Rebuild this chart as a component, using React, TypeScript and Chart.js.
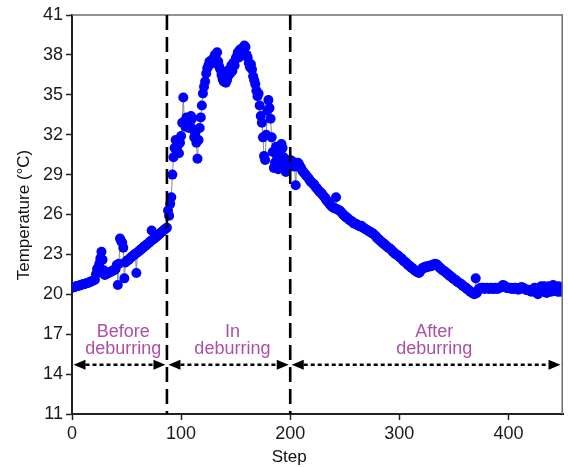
import React, { useEffect, useRef } from 'react';
import { Chart, registerables } from 'chart.js';

Chart.register(...registerables);

// Step 0..87
const beforeTemps = [
  20.5, 20.52, 20.55, 20.57, 20.6, 20.62, 20.65, 20.67, 20.7, 20.72,
  20.75, 20.77, 20.8, 20.82, 20.85, 20.87, 20.9, 20.94, 20.98, 21.02,
  21.06, 21.1, 21.5, 21.9, 22.0, 22.3, 22.7, 23.2, 22.6, 21.8,
  21.45, 21.5, 21.55, 21.6, 21.62, 21.67, 21.72, 21.76, 21.8, 21.85,
  21.9, 22.2, 20.7, 22.3, 24.2, 24.0, 23.9, 23.5, 21.2, 22.4,
  22.5, 22.55, 22.6, 22.7, 22.77, 22.84, 22.9, 22.97, 23.04, 21.6,
  23.15, 23.22, 23.29, 23.36, 23.43, 23.5, 23.57, 23.64, 23.7, 23.77,
  23.84, 23.9, 24.0, 24.8, 24.1, 24.17, 24.24, 24.31, 24.38, 24.45,
  24.52, 24.6, 24.67, 24.74, 24.81, 24.88, 24.95, 25.0,
];

// Step 88..199
const duringTemps = [
  26.3, 25.9, 26.8, 27.3, 29.0, 30.3, 31.0, 31.6, 30.8, 31.2,
  30.6, 31.4, 31.9, 32.9, 34.8, 33.0, 32.6, 33.3, 33.0, 32.5,
  32.8, 33.4, 33.2, 32.4, 31.8, 32.1, 31.4, 30.2, 31.6, 32.5,
  33.3, 34.2, 35.1, 35.6, 36.0, 36.6, 37.0, 37.2, 37.5, 37.3,
  37.6, 37.4, 37.8, 38.0, 37.7, 38.2, 37.5, 37.1, 36.9, 36.5,
  36.2, 36.0, 36.3, 35.9, 36.1, 36.4, 36.9, 36.6, 37.2, 36.8,
  37.4, 37.2, 37.7, 37.9, 38.2, 37.8, 38.4, 38.1, 38.5, 38.3,
  38.7, 38.6, 38.0, 37.8, 37.4, 37.1, 37.3, 36.9, 36.4, 36.1,
  35.8, 35.3, 34.9, 35.1, 34.2, 33.4, 32.9, 31.8, 30.4, 30.1,
  32.0, 33.8, 34.6, 34.0, 33.2, 31.8, 30.7, 29.5, 29.9, 31.1,
  30.2, 29.4, 29.8, 30.5, 31.3, 31.0, 30.3, 29.6, 29.2, 30.0,
  29.7, 29.6,
];

// Step 200..450
const afterTemps = [
  30.1, 29.8, 30.0, 29.9, 29.6, 28.2, 29.7, 29.9, 29.8, 29.6,
  29.5, 29.3, 29.2, 29.1, 29.0, 28.9, 28.8, 28.7, 28.55, 28.45,
  28.4, 28.3, 28.25, 28.1, 28.0, 27.9, 27.8, 27.7, 27.65, 27.55,
  27.45, 27.35, 27.25, 27.1, 27.0, 26.9, 26.8, 26.7, 26.6, 26.55,
  26.5, 26.45, 27.3, 26.4, 26.35, 26.3, 26.25, 26.15, 26.05, 25.95,
  25.9, 25.8, 25.75, 25.7, 25.6, 25.55, 25.5, 25.45, 25.35, 25.3,
  25.3, 25.25, 25.2, 25.15, 25.1, 25.15, 25.1, 25.0, 24.95, 24.9,
  24.85, 24.8, 24.75, 24.7, 24.65, 24.6, 24.55, 24.5, 24.4, 24.3,
  24.2, 24.15, 24.05, 24.0, 23.9, 23.85, 23.8, 23.7, 23.65, 23.55,
  23.5, 23.45, 23.4, 23.3, 23.2, 23.15, 23.05, 23.0, 22.95, 22.9,
  22.8, 22.75, 22.7, 22.6, 22.5, 22.45, 22.4, 22.3, 22.2, 22.15,
  22.1, 22.0, 21.95, 21.9, 21.8, 21.75, 21.7, 21.65, 21.6, 21.7,
  21.85, 21.95, 22.0, 22.05, 22.0, 22.1, 22.05, 22.1, 22.15, 22.1,
  22.2, 22.25, 22.2, 22.3, 22.25, 22.2, 22.1, 22.0, 21.95, 21.85,
  21.8, 21.75, 21.7, 21.6, 21.55, 21.5, 21.4, 21.35, 21.3, 21.2,
  21.15, 21.1, 21.05, 20.95, 20.9, 20.85, 20.8, 20.75, 20.65, 20.6,
  20.55, 20.5, 20.4, 20.35, 20.3, 20.2, 20.15, 20.1, 20.05, 20.0,
  21.2, 20.1, 20.3, 20.4, 20.45, 20.5, 20.45, 20.5, 20.4, 20.45,
  20.5, 20.45, 20.4, 20.45, 20.5, 20.4, 20.45, 20.4, 20.5, 20.45,
  20.4, 20.45, 20.5, 20.55, 20.6, 20.7, 20.65, 20.6, 20.5, 20.45,
  20.5, 20.45, 20.5, 20.4, 20.45, 20.4, 20.5, 20.45, 20.4, 20.35,
  20.4, 20.5, 20.55, 20.5, 20.45, 20.4, 20.35, 20.3, 20.35, 20.3,
  20.25, 20.2, 20.3, 20.4, 20.5, 20.3, 20.1, 20.0, 20.2, 20.5,
  20.6, 20.4, 20.2, 20.6, 20.3, 20.1, 20.5, 20.6, 20.3, 20.2,
  20.5, 20.7, 20.6, 20.3, 20.5, 20.2, 20.6, 20.2, 20.5, 20.3,
  20.4,
];

const beforeStart = 0;
const duringStart = 88;
const afterStart = 200;

const xTickValues = [0, 100, 200, 300, 400];
const xMin = 0;
const xMax = 450;
const yMin = 11;
const yMax = 41;
const yStep = 3;

const phaseBoundaries = [87, 200];
const arrowLevel = 14.7;
const phaseLabels = [
  ['Before', 'deburring'],
  ['In', 'deburring'],
  ['After', 'deburring'],
];
const phaseLabelCenters = [47, 147, 332];
const phaseLabelLines = [17.2, 15.85];

const xTitle = 'Step';
const yTitle = 'Temperature (°C)';

const FONT = '"Liberation Sans", Arial, Helvetica, sans-serif';
const LABEL_COLOR = '#AD4FA5';

const toPoints = (arr: number[], start: number) => arr.map((v, i) => ({ x: start + i, y: v }));

const overlayPlugin = {
  id: 'overlay',
  afterDatasetsDraw(chart: any) {
    const { ctx, chartArea: a, scales } = chart;
    const x = scales.x;
    const y = scales.y;
    ctx.save();

    // top and right frame
    ctx.strokeStyle = '#6e6e6e';
    ctx.lineWidth = 1.5;
    ctx.setLineDash([]);
    ctx.beginPath();
    ctx.moveTo(a.left, a.top);
    ctx.lineTo(a.right - 0.75, a.top);
    ctx.lineTo(a.right - 0.75, a.bottom);
    ctx.stroke();

    // dashed phase boundaries
    ctx.strokeStyle = '#000';
    ctx.lineWidth = 2.6;
    ctx.setLineDash([15, 7]);
    for (const b of phaseBoundaries) {
      const px = x.getPixelForValue(b);
      ctx.beginPath();
      ctx.moveTo(px, a.top);
      ctx.lineTo(px, a.bottom);
      ctx.stroke();
    }

    // double-headed dotted arrows
    const ay = y.getPixelForValue(arrowLevel);
    const edges = [xMin, ...phaseBoundaries, xMax];
    const head = 12;
    const hw = 5;
    for (let i = 0; i < edges.length - 1; i++) {
      const x1 = x.getPixelForValue(edges[i]) + 1.5;
      const x2 = Math.min(x.getPixelForValue(edges[i + 1]) - 1.5, a.right - 2.5);
      ctx.strokeStyle = '#000';
      ctx.lineWidth = 2.4;
      ctx.setLineDash([4, 3]);
      ctx.beginPath();
      ctx.moveTo(x1 + head, ay);
      ctx.lineTo(x2 - head, ay);
      ctx.stroke();
      ctx.setLineDash([]);
      ctx.fillStyle = '#000';
      ctx.beginPath();
      ctx.moveTo(x1, ay);
      ctx.lineTo(x1 + head, ay - hw);
      ctx.lineTo(x1 + head, ay + hw);
      ctx.closePath();
      ctx.fill();
      ctx.beginPath();
      ctx.moveTo(x2, ay);
      ctx.lineTo(x2 - head, ay - hw);
      ctx.lineTo(x2 - head, ay + hw);
      ctx.closePath();
      ctx.fill();
    }

    // phase labels
    ctx.fillStyle = LABEL_COLOR;
    ctx.font = `18px ${FONT}`;
    ctx.textAlign = 'center';
    ctx.textBaseline = 'middle';
    phaseLabels.forEach((lines, i) => {
      const cx = x.getPixelForValue(phaseLabelCenters[i]);
      lines.forEach((t, j) => {
        ctx.fillText(t, cx, y.getPixelForValue(phaseLabelLines[j]));
      });
    });

    ctx.restore();
  },
  afterDraw(chart: any) {
    const { ctx, scales } = chart;
    const x = scales.x;
    ctx.save();
    ctx.fillStyle = '#111';
    ctx.font = `17px ${FONT}`;
    ctx.textAlign = 'center';
    ctx.textBaseline = 'middle';
    ctx.fillText(xTitle, x.getPixelForValue(199), 457);
    ctx.translate(24, 215);
    ctx.rotate(-Math.PI / 2);
    ctx.fillText(yTitle, 0, 0);
    ctx.restore();
  },
};

export default function App() {
  const ref = useRef<HTMLCanvasElement | null>(null);

  useEffect(() => {
    if (!ref.current) return;
    const data = [
      ...toPoints(beforeTemps, beforeStart),
      ...toPoints(duringTemps, duringStart),
      ...toPoints(afterTemps, afterStart),
    ];
    const chart = new Chart(ref.current, {
      type: 'scatter',
      data: {
        datasets: [
          {
            data,
            showLine: true,
            borderColor: '#8a8a8a',
            borderWidth: 1,
            pointRadius: 5,
            pointHoverRadius: 5,
            pointBackgroundColor: '#0000FF',
            pointBorderColor: '#0000FF',
            pointBorderWidth: 0,
          },
        ],
      },
      options: {
        responsive: false,
        animation: false,
        events: [],
        layout: { padding: { top: 15, right: 0, bottom: 0, left: 0 } },
        plugins: {
          legend: { display: false },
          tooltip: { enabled: false },
        },
        scales: {
          x: {
            type: 'linear',
            min: xMin,
            max: xMax,
            border: { display: true, color: '#222', width: 2 },
            grid: {
              display: true,
              drawOnChartArea: false,
              drawTicks: true,
              tickLength: 6,
              color: '#222',
              tickWidth: 1.5,
            },
            ticks: {
              stepSize: 100,
              color: '#1a1a1a',
              font: { size: 18, family: FONT },
              padding: 3,
              maxRotation: 0,
            },
            afterBuildTicks: (scale: any) => {
              scale.ticks = xTickValues.map((v) => ({ value: v }));
            },
            afterFit: (scale: any) => {
              scale.height = 53;
            },
          },
          y: {
            type: 'linear',
            min: yMin,
            max: yMax,
            border: { display: true, color: '#222', width: 2 },
            grid: {
              display: true,
              drawOnChartArea: false,
              drawTicks: true,
              tickLength: 6,
              color: '#222',
              tickWidth: 1.5,
            },
            ticks: {
              stepSize: yStep,
              color: '#1a1a1a',
              font: { size: 18, family: FONT },
              padding: 3,
            },
            afterFit: (scale: any) => {
              scale.width = 72;
            },
          },
        },
      },
      plugins: [overlayPlugin],
    });
    return () => chart.destroy();
  }, []);

  return (
    <div style={{ position: 'fixed', left: 0, top: 0, width: 568, height: 467, background: '#fff' }}>
      <canvas ref={ref} width={568} height={467} style={{ width: 568, height: 467, display: 'block' }} />
    </div>
  );
}
